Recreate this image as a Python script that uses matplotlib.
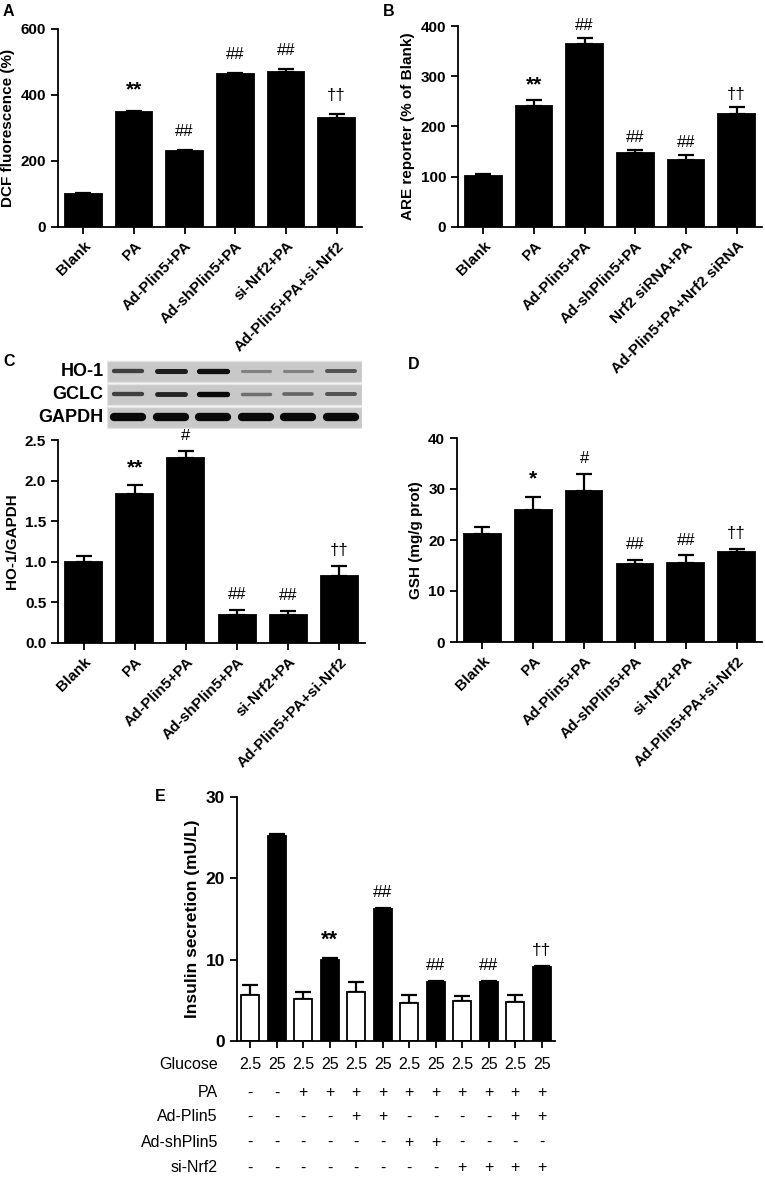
import numpy as np
import matplotlib.pyplot as plt
from matplotlib.transforms import blended_transform_factory

plt.rcParams['font.family'] = ['Liberation Sans', 'DejaVu Sans']
plt.rcParams['font.weight'] = 'bold'
plt.rcParams['axes.labelweight'] = 'bold'
plt.rcParams['axes.linewidth'] = 1.3

W, H = 765, 1177

# panel A
groups_a = ['Blank', 'PA', 'Ad-Plin5+PA', 'Ad-shPlin5+PA', 'si-Nrf2+PA', 'Ad-Plin5+PA+si-Nrf2']
dcf = [101, 349, 231, 465, 469, 329]
dcf_err = [3, 3, 3, 3, 10, 14]
marks_a = ['', '**', '##', '##', '##', '††']
ticks_a = [0, 200, 400, 600]

# panel B
groups_b = ['Blank', 'PA', 'Ad-Plin5+PA', 'Ad-shPlin5+PA', 'Nrf2 siRNA+PA', 'Ad-Plin5+PA+Nrf2 siRNA']
are = [101, 240, 365, 147, 133, 224]
are_err = [5, 12, 11, 7, 11, 14]
marks_b = ['', '**', '##', '##', '##', '††']
ticks_b = [0, 100, 200, 300, 400]

# panel C
ho1 = [1.00, 1.84, 2.28, 0.34, 0.35, 0.83]
ho1_err = [0.07, 0.10, 0.09, 0.07, 0.05, 0.12]
marks_c = ['', '**', '#', '##', '##', '††']
ticks_c = [0.0, 0.5, 1.0, 1.5, 2.0, 2.5]
blot_rows = ['HO-1', 'GCLC', 'GAPDH']
band_ho1 = [0.65, 0.85, 0.92, 0.3, 0.3, 0.55]
band_gclc = [0.65, 0.8, 0.95, 0.4, 0.45, 0.55]
band_gapdh = [0.95, 0.95, 0.95, 0.95, 0.95, 0.95]

# panel D
gsh = [21.2, 25.9, 29.7, 15.3, 15.5, 17.6]
gsh_err = [1.4, 2.5, 3.3, 0.8, 1.5, 0.7]
marks_d = ['', '*', '#', '##', '##', '††']
ticks_d = [0, 10, 20, 30, 40]

# panel E
insulin = [5.6, 25.2, 5.2, 10.0, 6.0, 16.2, 4.7, 7.2, 4.9, 7.2, 4.8, 9.1]
insulin_err = [1.3, 0.2, 0.8, 0.15, 1.3, 0.15, 1.0, 0.15, 0.6, 0.15, 0.9, 0.15]
marks_e = ['', '', '', '**', '', '##', '', '##', '', '##', '', '††']
ticks_e = [0, 10, 20, 30]
glucose = ['2.5', '25'] * 6
pa_row = ['-', '-'] + ['+'] * 10
plin5_row = ['-', '-', '-', '-', '+', '+', '-', '-', '-', '-', '+', '+']
shplin5_row = ['-', '-', '-', '-', '-', '-', '+', '+', '-', '-', '-', '-']
nrf2_row = ['-'] * 8 + ['+'] * 4
table_labels = ['Glucose', 'PA', 'Ad-Plin5', 'Ad-shPlin5', 'si-Nrf2']


def place(l, t, r, b):
    return [l / W, 1 - b / H, (r - l) / W, (b - t) / H]


def style(ax, yticks, fmt, groups=None, fs=11, xfs=11):
    for s in ['top', 'right']:
        ax.spines[s].set_visible(False)
    ax.tick_params(width=1.3, length=5)
    ax.set_ylim(yticks[0], yticks[-1])
    ax.set_yticks(yticks)
    ax.set_yticklabels([fmt % t for t in yticks], fontsize=fs, fontweight='bold')
    if groups is not None:
        ax.set_xticks(range(len(groups)))
        ax.set_xticklabels(groups, rotation=45, ha='right', rotation_mode='anchor',
                           fontsize=xfs, fontweight='bold')


def bar_panel(ax, vals, errs, marks, off, width=0.72, colors=None, fs=12):
    x = np.arange(len(vals))
    if colors is None:
        colors = ['black'] * len(vals)
    ax.bar(x, vals, width, color=colors, edgecolor='black', linewidth=1.3, zorder=2)
    ax.errorbar(x, vals, yerr=[np.zeros(len(vals)), errs], fmt='none', ecolor='black',
                elinewidth=1.6, capsize=5.5, capthick=1.6, zorder=1)
    for xi, v, e, m in zip(x, vals, errs, marks):
        if m:
            star = '*' in m
            ax.annotate(m, (xi, v + e), xytext=(0, off + (2 if star else 0)),
                        textcoords='offset points', ha='center', va='center',
                        fontsize=fs + 3 if star else fs,
                        fontweight='bold' if star else 'normal')
    ax.set_xlim(-0.5, len(vals) - 0.5)


fig = plt.figure(figsize=(W / 100, H / 100), dpi=100)

# A
ax = fig.add_axes(place(58, 29, 362, 227))
bar_panel(ax, dcf, dcf_err, marks_a, 13)
style(ax, ticks_a, '%d', groups_a)
ax.set_ylabel('DCF fluorescence (%)', fontsize=11)

# B
ax = fig.add_axes(place(458, 26, 762, 227))
bar_panel(ax, are, are_err, marks_b, 9)
style(ax, ticks_b, '%d', groups_b)
ax.set_ylabel('ARE reporter (% of Blank)', fontsize=11)

# C
ax = fig.add_axes(place(58, 440, 365, 643))
bar_panel(ax, ho1, ho1_err, marks_c, 11)
style(ax, ticks_c, '%.1f', groups_a)
ax.set_ylabel('HO-1/GAPDH', fontsize=11)

# blot
bx = fig.add_axes(place(107, 360, 362, 429))
bx.set_xlim(0, 6)
bx.set_ylim(0, 3)
bx.axis('off')
for r, (name, bands) in enumerate(zip(blot_rows, [band_ho1, band_gclc, band_gapdh])):
    yc = 2.5 - r
    bx.add_patch(plt.Rectangle((0, yc - 0.46), 6, 0.92, facecolor='#c8c8c8',
                               edgecolor='#e4e4e4', linewidth=1))
    for i, d in enumerate(bands):
        lw = 6 if name == 'GAPDH' else 1.5 + 2.5 * d
        g = 0.72 * (1 - d)
        bx.plot([i + 0.17, i + 0.83], [yc, yc], color=(g, g, g), lw=lw,
                solid_capstyle='round')
    bx.text(-0.08, yc, name, ha='right', va='center', fontsize=13, fontweight='bold')

# D
ax = fig.add_axes(place(457, 438, 762, 642))
bar_panel(ax, gsh, gsh_err, marks_d, 11)
style(ax, ticks_d, '%d', groups_a)
ax.set_ylabel('GSH (mg/g prot)', fontsize=11)

# E
ax = fig.add_axes(place(237, 797, 555, 1041))
colors_e = ['white', 'black'] * 6
bar_panel(ax, insulin, insulin_err, marks_e, 11, width=0.68, colors=colors_e, fs=12.5)
style(ax, ticks_e, '%d', fs=12.5)
ax.set_xticks(range(12))
ax.set_xticklabels([])
ax.set_ylabel('Insulin secretion (mU/L)', fontsize=12.5)
tr = blended_transform_factory(ax.transData, ax.transAxes)
row_y = [-0.098, -0.213, -0.311, -0.414, -0.52]
for lab, row, yy in zip(table_labels, [glucose, pa_row, plin5_row, shplin5_row, nrf2_row], row_y):
    ax.text(-0.06, yy, lab, transform=ax.transAxes, ha='right', va='center',
            fontsize=11.5, fontweight='normal')
    for i, s in enumerate(row):
        ax.text(i, yy, s, transform=tr, ha='center', va='center', fontsize=11.5,
                fontweight='normal')

# panel letters
for lab, px, py in [('A', 3, 4), ('B', 383, 4), ('C', 3, 354), ('D', 408, 357), ('E', 155, 789)]:
    fig.text(px / W, 1 - py / H, lab, ha='left', va='top', fontsize=11.5, fontweight='bold')

fig.savefig('out.png', dpi=100)
